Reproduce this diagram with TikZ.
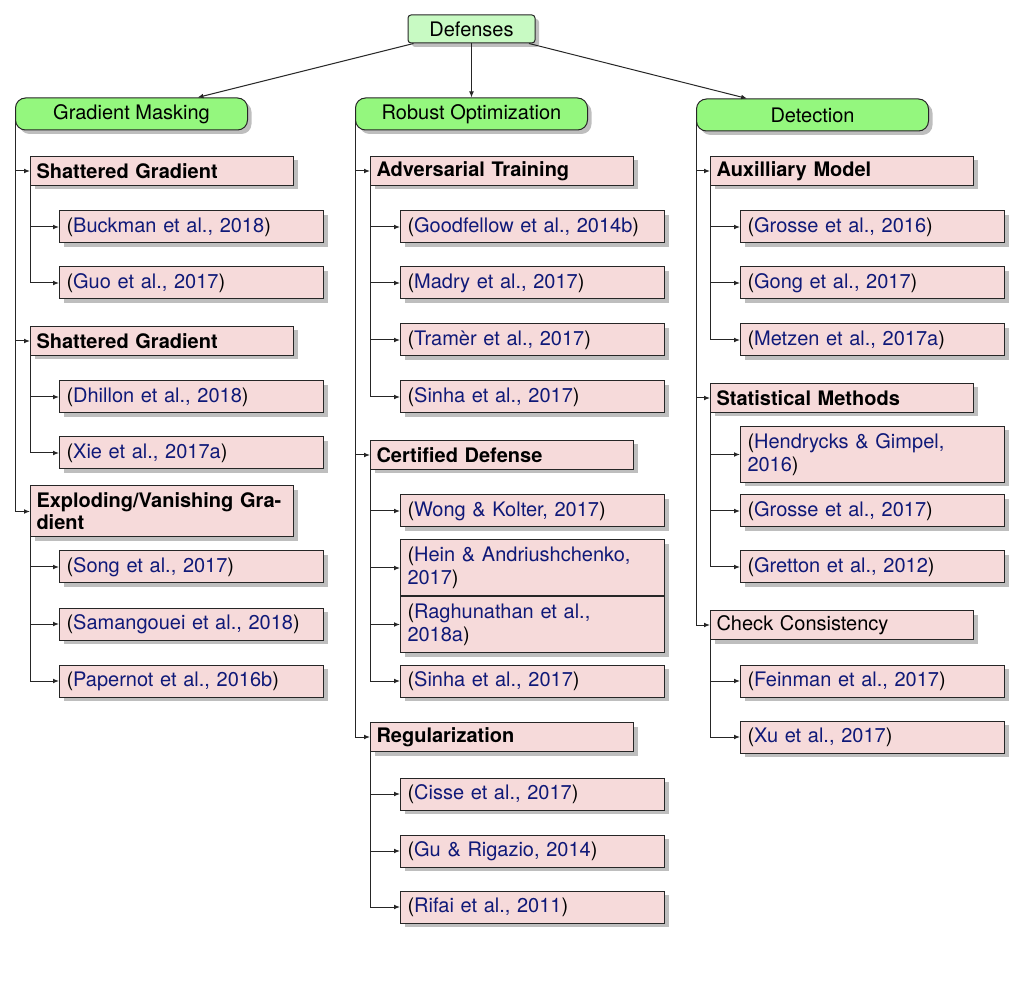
\documentclass[tikz,border=0pt]{standalone}
\usepackage{fontspec}
\setmainfont{TeX Gyre Heros}
\usetikzlibrary{shadows,arrows.meta}
\definecolor{rootgreen}{RGB}{200,250,195}
\definecolor{catgreen}{RGB}{148,247,126}
\definecolor{leafpink}{RGB}{246,218,218}
\definecolor{citeblue}{RGB}{15,25,120}
\definecolor{shadowgray}{RGB}{190,190,190}
\newcommand\mycite[1]{(\textcolor{citeblue}{#1})}
\tikzset{
  base/.style={draw=black!85, line width=0.5pt, font=\fontsize{10}{11.5}\selectfont,
    drop shadow={shadow xshift=2pt,shadow yshift=-2pt,fill=shadowgray,opacity=1}},
  rootbox/.style={base, fill=rootgreen, rounded corners=1.5pt, minimum width=63.5pt, minimum height=14pt, inner sep=0pt},
  catbox/.style={base, fill=catgreen, rounded corners=5pt, minimum width=116pt, minimum height=16pt, inner sep=0pt, anchor=west},
  subbox/.style={base, fill=leafpink, text width=125.5pt, inner xsep=3pt, inner ysep=0pt, minimum height=14.5pt, anchor=west, align=left, font=\fontsize{10}{11}\selectfont\bfseries},
  leafbox/.style={base, fill=leafpink, text width=125pt, inner xsep=3.5pt, inner ysep=0pt, minimum height=16pt, anchor=west, align=left},
  twoleaf/.style={leafbox, minimum height=28pt},
  conn/.style={draw=black!85, line width=0.5pt, -{Latex[length=3pt,width=2.4pt]}}
}
\begin{document}
\begin{tikzpicture}[x=0.5pt,y=-0.5pt]
\useasboundingbox (0,0) rectangle (1034,994);
% root and categories
\node[rootbox] (root) at (471.5,29) {Defenses};
\node[catbox] (gm) at (15,114) {Gradient Masking};
\node[catbox] (ro) at (355,114) {Robust Optimization};
\node[catbox] (det) at (696,115) {Detection};
% left column
\node[subbox] (sg1) at (30,171) {Shattered Gradient};
\node[leafbox] (l1) at (59,227) {\mycite{Buckman et al., 2018}};
\node[leafbox] (l2) at (59,283) {\mycite{Guo et al., 2017}};
\node[subbox] (sg2) at (30,341) {Shattered Gradient};
\node[leafbox] (l3) at (59,397) {\mycite{Dhillon et al., 2018}};
\node[leafbox] (l4) at (59,453) {\mycite{Xie et al., 2017a}};
\node[subbox, minimum height=25.5pt] (evg) at (30,511.5) {Exploding/Vanishing Gra-\\dient};
\node[leafbox] (l5) at (59,567) {\mycite{Song et al., 2017}};
\node[leafbox] (l6) at (59,624) {\mycite{Samangouei et al., 2018}};
\node[leafbox] (l7) at (59,681) {\mycite{Papernot et al., 2016b}};
% middle column
\node[subbox] (at) at (370,171) {Adversarial Training};
\node[leafbox] (m1) at (400,227) {\mycite{Goodfellow et al., 2014b}};
\node[leafbox] (m2) at (400,283) {\mycite{Madry et al., 2017}};
\node[leafbox] (m3) at (400,340) {\mycite{Tramèr et al., 2017}};
\node[leafbox] (m4) at (400,397) {\mycite{Sinha et al., 2017}};
\node[subbox] (cd) at (370,455) {Certified Defense};
\node[leafbox] (m5) at (400,511) {\mycite{Wong \& Kolter, 2017}};
\node[twoleaf] (m6) at (400,568) {(\textcolor{citeblue}{Hein \& Andriushchenko,}\\\textcolor{citeblue}{2017})};
\node[twoleaf] (m7) at (400,624.5) {(\textcolor{citeblue}{Raghunathan et al.,}\\\textcolor{citeblue}{2018a})};
\node[leafbox] (m8) at (400,681) {\mycite{Sinha et al., 2017}};
\node[subbox] (reg) at (370,737) {Regularization};
\node[leafbox] (m9) at (400,794) {\mycite{Cisse et al., 2017}};
\node[leafbox] (m10) at (400,851) {\mycite{Gu \& Rigazio, 2014}};
\node[leafbox] (m11) at (400,907) {\mycite{Rifai et al., 2011}};
% right column
\node[subbox] (am) at (710,171) {Auxilliary Model};
\node[leafbox] (r1) at (740,227) {\mycite{Grosse et al., 2016}};
\node[leafbox] (r2) at (740,283) {\mycite{Gong et al., 2017}};
\node[leafbox] (r3) at (740,340) {\mycite{Metzen et al., 2017a}};
\node[subbox] (sm) at (710,398) {Statistical Methods};
\node[twoleaf] (r4) at (740,454.5) {(\textcolor{citeblue}{Hendrycks \& Gimpel,}\\\textcolor{citeblue}{2016})};
\node[leafbox] (r5) at (740,511) {\mycite{Grosse et al., 2017}};
\node[leafbox] (r6) at (740,567) {\mycite{Gretton et al., 2012}};
\node[subbox, font=\fontsize{10}{11}\selectfont\mdseries] (cc) at (710,625) {Check Consistency};
\node[leafbox] (r7) at (740,681) {\mycite{Feinman et al., 2017}};
\node[leafbox] (r8) at (740,737) {\mycite{Xu et al., 2017}};
% connectors from root
\draw[conn] (root) -- (gm);
\draw[conn] (root) -- (ro);
\draw[conn] (root) -- (det);
% category to subcategory
\foreach \c/\s in {gm/sg1, gm/sg2, gm/evg, ro/at, ro/cd, ro/reg, det/am, det/sm, det/cc}
  \draw[conn] (\c.west) |- (\s.west);
% subcategory to leaves
\foreach \s/\l in {sg1/l1, sg1/l2, sg2/l3, sg2/l4, evg/l5, evg/l6, evg/l7,
                   at/m1, at/m2, at/m3, at/m4, cd/m5, cd/m6, cd/m7, cd/m8, reg/m9, reg/m10, reg/m11,
                   am/r1, am/r2, am/r3, sm/r4, sm/r5, sm/r6, cc/r7, cc/r8}
  \draw[conn] (\s.south west) |- (\l.west);
\end{tikzpicture}
\end{document}
